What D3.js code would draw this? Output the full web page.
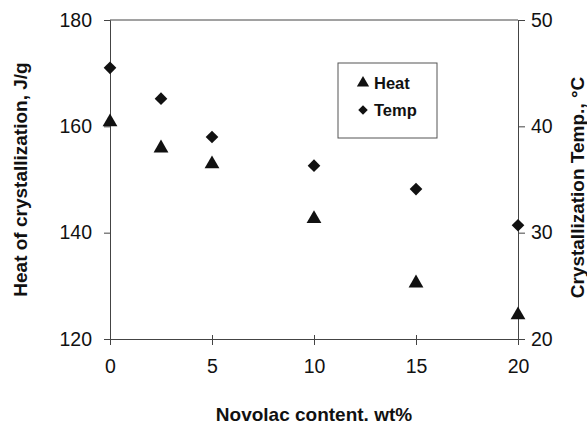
<!DOCTYPE html>
<html>
<head>
<meta charset="utf-8">
<script src="https://cdn.jsdelivr.net/npm/d3@7"></script>
<style>
  body { margin: 0; background: #fff; }
  text { font-family: "Liberation Sans", Arial, sans-serif; fill: #111; }
  .tick text { font-size: 19.5px; }
  .axisTitle { font-size: 19px; font-weight: bold; }
  .legendText { font-size: 16.5px; font-weight: bold; }
</style>
</head>
<body>
<div class="chart"></div>
<script>
var svgWidth = 587;
var svgHeight = 424;

var margin = { top: 20, right: 69, bottom: 85, left: 110 };
var width = svgWidth - margin.left - margin.right;
var height = svgHeight - margin.top - margin.bottom;

// data
var novolac = [0, 2.5, 5, 10, 15, 20];
var heat = [160.8, 155.9, 152.9, 142.6, 130.5, 124.5];
var temp = [45.5, 42.6, 39.0, 36.3, 34.1, 30.7];
var xTicks = [0, 5, 10, 15, 20];
var leftTicks = [120, 140, 160, 180];
var rightTicks = [20, 30, 40, 50];
var seriesNames = ["Heat", "Temp"];

var svg = d3.select(".chart")
  .append("svg")
  .attr("width", svgWidth)
  .attr("height", svgHeight);

var chartGroup = svg.append("g")
  .attr("transform", `translate(${margin.left}, ${margin.top})`);

var xScale = d3.scaleLinear().domain([0, 20]).range([0, width]);
var yLeft = d3.scaleLinear().domain([120, 180]).range([height, 0]);
var yRight = d3.scaleLinear().domain([20, 50]).range([height, 0]);

// frame on top
chartGroup.append("line")
  .attr("x1", 0).attr("x2", width).attr("y1", 0).attr("y2", 0)
  .attr("stroke", "#444").attr("stroke-width", 1);

var bottomAxis = d3.axisBottom(xScale).tickValues(xTicks).tickSize(6).tickPadding(14);
var leftAxis = d3.axisLeft(yLeft).tickValues(leftTicks).tickSize(6).tickPadding(12);
var rightAxis = d3.axisRight(yRight).tickValues(rightTicks).tickSize(7).tickPadding(6);

var xg = chartGroup.append("g")
  .attr("transform", `translate(0,${height})`)
  .call(bottomAxis);
// x ticks cross the axis a little
xg.selectAll(".tick line").attr("y1", -4);

chartGroup.append("g").call(leftAxis);

chartGroup.append("g")
  .attr("transform", `translate(${width},0)`)
  .call(rightAxis);

chartGroup.selectAll(".domain, .tick line").attr("stroke", "#444");
chartGroup.selectAll(".tick text").attr("fill", "#111");

var triangle = d3.symbol().type(d3.symbolTriangle).size(95);
var diamond = d3.symbol().type(d3.symbolSquare).size(80);

chartGroup.selectAll(".heat")
  .data(novolac)
  .enter()
  .append("path")
  .attr("class", "heat")
  .attr("d", triangle)
  .attr("transform", (d, i) => `translate(${xScale(d)},${yLeft(heat[i])})`)
  .attr("fill", "#111");

chartGroup.selectAll(".temp")
  .data(novolac)
  .enter()
  .append("path")
  .attr("class", "temp")
  .attr("d", diamond)
  .attr("transform", (d, i) => `translate(${xScale(d)},${yRight(temp[i])}) rotate(45)`)
  .attr("fill", "#111");

// legend
var legend = chartGroup.append("g")
  .attr("transform", `translate(${338 - margin.left},${63 - margin.top})`);
legend.append("rect")
  .attr("width", 99).attr("height", 75)
  .attr("fill", "#fff").attr("stroke", "#555").attr("stroke-width", 1);
seriesNames.forEach(function (name, i) {
  var row = legend.append("g").attr("transform", `translate(25,${20 + i * 27})`);
  row.append("path")
    .attr("d", i === 0 ? d3.symbol().type(d3.symbolTriangle).size(65)
                       : d3.symbol().type(d3.symbolSquare).size(45))
    .attr("transform", i === 0 ? "" : "rotate(45)")
    .attr("fill", "#111");
  row.append("text")
    .attr("x", 11).attr("dy", "0.36em")
    .attr("class", "legendText")
    .text(name);
});

// axis titles
chartGroup.append("text")
  .attr("class", "axisTitle")
  .attr("text-anchor", "middle")
  .attr("x", width / 2)
  .attr("y", height + 82)
  .text("Novolac content. wt%");

chartGroup.append("text")
  .attr("class", "axisTitle")
  .attr("text-anchor", "middle")
  .attr("transform", `translate(${27 - margin.left},${height / 2}) rotate(-90)`)
  .text("Heat of crystallization, J/g");

chartGroup.append("text")
  .attr("class", "axisTitle")
  .attr("text-anchor", "middle")
  .attr("transform", `translate(${width + 66},${height / 2 + 8}) rotate(-90)`)
  .text("Crystallization Temp., °C");
</script>
</body>
</html>
